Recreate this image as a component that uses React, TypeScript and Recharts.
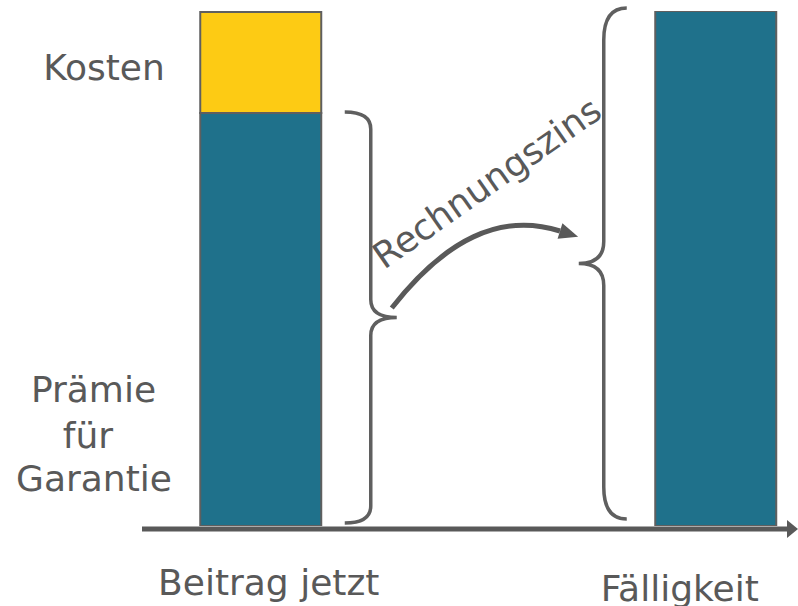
import { BarChart, Bar, XAxis, YAxis, Customized } from 'recharts'

// Zeitpunkte auf der Zeitachse (0 = jetzt, 1 = Fälligkeit)
const zeitpunkte = [0, 1]
const zeitLabels = ['Beitrag jetzt', 'Fälligkeit']
// Anteil in % der Ablaufleistung
const garantie = [80.2, 100]
const kosten = [19.6, null]

const data = zeitpunkte.map((t, i) => ({ t, garantie: garantie[i], kosten: kosten[i] }))

const W = 798
const H = 606
const margin = { top: 11, right: 14, bottom: 0, left: 147 }
const xAxisHeight = 80
const xDomain: [number, number] = [-0.25, 1.15]
const yDomain: [number, number] = [0, 100]

const TEXT = '#595959'
const LINE = '#5f5f5f'
const FONT = '"DejaVu Sans", Verdana, sans-serif'

// same mapping the chart uses, for the annotations
const plotBottom = H - margin.bottom - xAxisHeight
const xPx = (t: number) =>
  margin.left + ((t - xDomain[0]) / (xDomain[1] - xDomain[0])) * (W - margin.left - margin.right)
const yPx = (v: number) => plotBottom - ((v - yDomain[0]) / (yDomain[1] - yDomain[0])) * (plotBottom - margin.top)

const bracePath = (x: number, y1: number, y2: number, d: number, e: number, t: number, r: number, r2: number) => {
  const ym = (y1 + y2) / 2
  return [
    `M${x - d * e},${y1}`,
    `Q${x},${y1} ${x},${y1 + r}`,
    `L${x},${ym - r2}`,
    `Q${x},${ym} ${x + d * t},${ym}`,
    `Q${x},${ym} ${x},${ym + r2}`,
    `L${x},${y2 - r}`,
    `Q${x},${y2} ${x - d * e},${y2}`,
  ].join(' ')
}

const Annotations = () => {
  const x0 = xPx(zeitpunkte[0])
  const x1 = xPx(zeitpunkte[1])
  const base = yPx(0)

  // curved arrow "Rechnungszins"
  const start = { x: x0 + 131, y: 308 }
  const c1 = { x: 445, y: 240 }
  const c2 = { x: 500, y: 212 }
  const end = { x: 560, y: 231 }
  const dx = end.x - c2.x
  const dy = end.y - c2.y
  const len = Math.hypot(dx, dy)
  const ux = dx / len
  const uy = dy / len
  const tip = { x: end.x + 19 * ux, y: end.y + 19 * uy }
  const head = `${tip.x},${tip.y} ${end.x - 8 * uy},${end.y + 8 * ux} ${end.x + 8 * uy},${end.y - 8 * ux}`

  return (
    <g>
      {/* time axis with arrow */}
      <line x1={142} y1={base + 3} x2={788} y2={base + 3} stroke={TEXT} strokeWidth={5} />
      <polygon points={`787,${base - 6} 798,${base + 3} 787,${base + 12}`} fill={TEXT} />

      <path
        d={bracePath(x0 + 110, yPx(garantie[0]) - 1, base - 3, 1, 26, 26, 17, 18)}
        fill="none"
        stroke={LINE}
        strokeWidth={3.5}
      />
      <path
        d={bracePath(x1 - 112, yPx(garantie[1]) - 3, base - 7, -1, 23, 25, 32, 22)}
        fill="none"
        stroke={LINE}
        strokeWidth={3.5}
      />

      <path
        d={`M${start.x},${start.y} C${c1.x},${c1.y} ${c2.x},${c2.y} ${end.x},${end.y}`}
        fill="none"
        stroke={TEXT}
        strokeWidth={5}
      />
      <polygon points={head} fill={TEXT} />

      <text
        x={384}
        y={270}
        transform="rotate(-35 384 270)"
        fontSize={36}
        fontFamily={FONT}
        fill={TEXT}
      >
        Rechnungszins
      </text>

      <g fontSize={36} fontFamily={FONT} fill={TEXT} textAnchor="middle">
        <text x={104} y={80}>Kosten</text>
        <text x={93.5} y={402}>Prämie</text>
        <text x={88} y={448}>für</text>
        <text x={94} y={491}>Garantie</text>
      </g>
    </g>
  )
}

const labelShift = [
  { dx: 8, dy: 61 },
  { dx: -36, dy: 67 },
]

const ZeitTick = ({ x, y, index }: any) => {
  const s = labelShift[index] ?? { dx: 0, dy: 61 }
  return (
    <text x={x + s.dx} y={y + s.dy} textAnchor="middle" fontSize={36} fontFamily={FONT} fill={TEXT}>
      {zeitLabels[index]}
    </text>
  )
}

export default function App() {
  return (
    <div style={{ position: 'absolute', left: 0, top: 0, width: W, height: H, background: '#fff' }}>
      <BarChart width={W} height={H} data={data} margin={margin}>
        <XAxis
          type="number"
          dataKey="t"
          domain={xDomain}
          ticks={zeitpunkte}
          height={xAxisHeight}
          axisLine={false}
          tickLine={false}
          tick={<ZeitTick />}
          interval={0}
          allowDataOverflow
        />
        <YAxis hide domain={yDomain} allowDataOverflow />
        <Bar dataKey="garantie" stackId="a" barSize={121} fill="#1F718B" stroke={LINE} strokeWidth={2} isAnimationActive={false} />
        <Bar dataKey="kosten" stackId="a" barSize={121} fill="#FDCB14" stroke={LINE} strokeWidth={2} isAnimationActive={false} />
        <Customized component={<Annotations />} />
      </BarChart>
    </div>
  )
}
